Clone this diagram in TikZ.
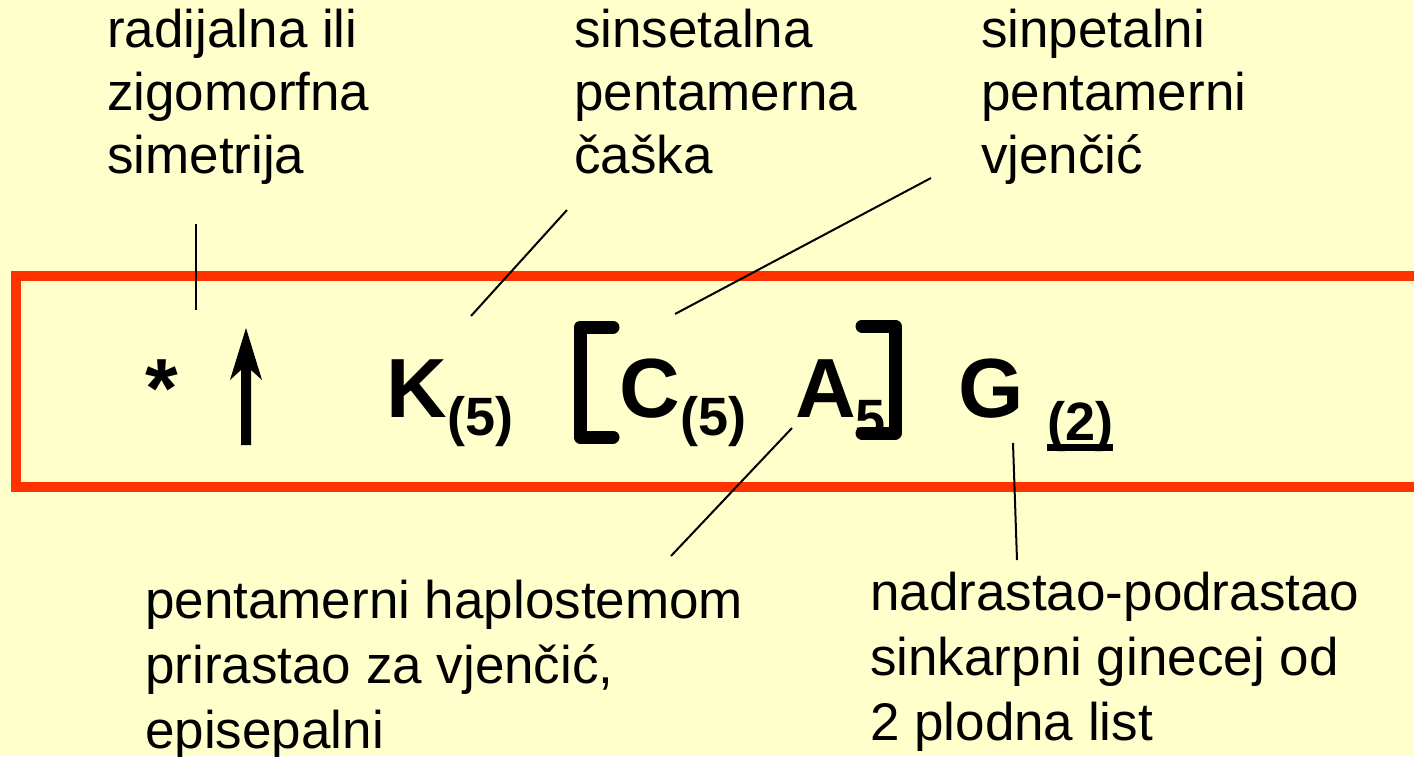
\documentclass[tikz,border=0pt]{standalone}
\usepackage{fontspec}
\setmainfont{Liberation Sans}
\definecolor{bgyellow}{HTML}{FFFFCC}
\definecolor{framered}{HTML}{FF3300}

\begin{document}
\begin{tikzpicture}[
    x=1pt, y=-1pt,
    lbl/.style={anchor=north west, inner sep=0pt, align=left, font=\fontsize{53}{63}\selectfont},
    sym/.style={anchor=base west, inner sep=0pt, font=\bfseries\fontsize{84}{84}\selectfont},
    sub/.style={anchor=base west, inner sep=0pt, font=\bfseries\fontsize{54}{54}\selectfont},
    pointer/.style={line width=2pt}
]
\useasboundingbox (0,0) rectangle (1414,756);
\fill[bgyellow] (0,0) rectangle (1414,756);
\draw[framered, line width=10pt] (1414,276) -- (16,276) -- (16,487) -- (1414,487);

% labels
\node[lbl] (symm) at (107,9) {radijalna ili\\zigomorfna\\simetrija};
\node[lbl] (calyx) at (574,9) {sinsetalna\\pentamerna\\čaška};
\node[lbl] (corolla) at (981,9) {sinpetalni\\pentamerni\\vjenčić};
\node[lbl, font=\fontsize{53}{65}\selectfont] (androec) at (145,580) {pentamerni haplostemom\\prirastao za vjenčić,\\episepalni};
\node[lbl, font=\fontsize{53}{65}\selectfont] (gynoec) at (870,572) {nadrastao-podrastao\\sinkarpni ginecej od\\2 plodna list};

% formula
\node[sym] (star) at (145,417) {*};
\fill (241,445) -- (241,370) -- (230,380) -- (246,328) -- (262,380) -- (251,370) -- (251,445) -- cycle;
\node[sym] (symK) at (386,417) {K};
\node[sub] (subK) at (447,435) {(5)};
\draw[line width=13pt, line cap=round, line join=round] (613,327) -- (580,327) -- (580,437) -- (613,437);
\node[sym] (symC) at (619,417) {C};
\node[sub] (subC) at (680,435) {(5)};
\node[sym] (symA) at (795,417) {A};
\node[sub] (subA) at (855,437) {5};
\draw[line width=13pt, line cap=round, line join=round] (862,326) -- (895,326) -- (895,433) -- (862,433);
\node[sym] (symG) at (958,417) {G};
\node[sub] (subG) at (1047,440) {(2)};
\draw[line width=7pt] ([yshift=-7pt]subG.base west) -- ([yshift=-7pt]subG.base east);

% pointers
\coordinate (p1a) at (196,224);
\coordinate (p1b) at (196,310);
\coordinate (p2a) at (567,210);
\coordinate (p2b) at (471,316);
\coordinate (p3a) at (931,178);
\coordinate (p3b) at (675,314);
\coordinate (p4a) at (792,428);
\coordinate (p4b) at (671,556);
\coordinate (p5a) at (1013,443);
\coordinate (p5b) at (1017,560);
\draw[pointer] (p1a) -- (p1b);
\draw[pointer] (p2a) -- (p2b);
\draw[pointer] (p3a) -- (p3b);
\draw[pointer] (p4a) -- (p4b);
\draw[pointer] (p5a) -- (p5b);
\end{tikzpicture}
\end{document}
